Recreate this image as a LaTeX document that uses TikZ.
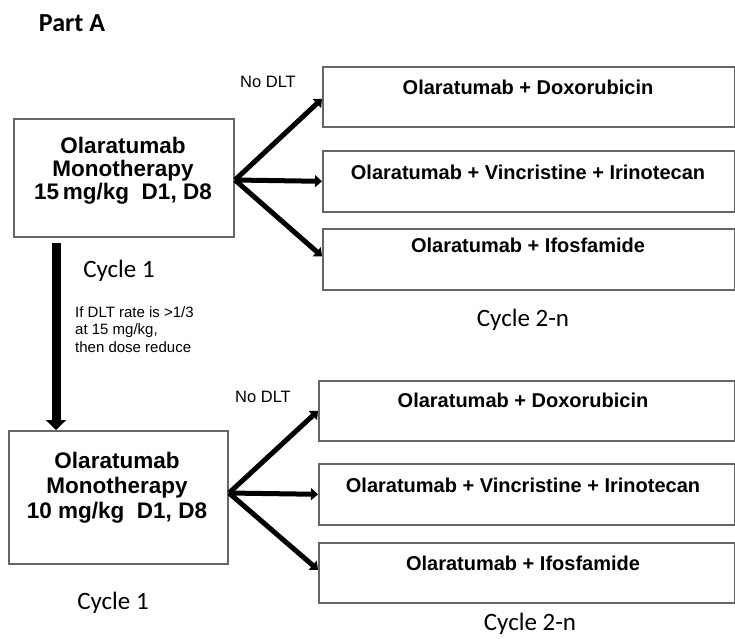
\documentclass[tikz,border=0pt]{standalone}
\usepackage{fontspec}
\setmainfont{Liberation Sans}
\newfontfamily\carlito{Carlito}
\usetikzlibrary{arrows.meta}
\definecolor{boxgray}{HTML}{666666}
\tikzset{
  box/.style={draw=boxgray, line width=1.6pt, inner sep=0pt, anchor=north west, fill=white},
  boxtxt/.style={font=\fontsize{20}{22}\selectfont\bfseries, inner sep=0pt},
  monotxt/.style={font=\fontsize{22.5}{23}\selectfont\bfseries, inner sep=0pt, align=center},
  cyc/.style={font=\fontsize{25}{27}\selectfont\carlito, inner sep=0pt},
  nodlt/.style={font=\fontsize{16.5}{18}\selectfont, inner sep=0pt},
  note/.style={font=\fontsize{15}{17.5}\selectfont, inner sep=0pt, align=left, anchor=north west},
  fan/.style={line width=5pt, -{Triangle[length=7pt,width=12pt]}},
  bigarrow/.style={line width=9pt, -{Triangle[length=10pt,width=20pt]}}
}
\begin{document}
\begin{tikzpicture}[x=1pt,y=-1pt]
\useasboundingbox (0,0) rectangle (735,638);
% title
\node[font=\fontsize{26}{28}\selectfont\carlito\bfseries, inner sep=0pt] (title) at (72,23) {Part A};

% ---------- top part ----------
\node[box, minimum width=220pt, minimum height=118pt] (topL) at (13,118) {};
\node[monotxt] (topLtxt) at (123,171) {Olaratumab\\Monotherapy\\15\,mg/kg\ \ D1, D8};

\node[box, minimum width=412pt, minimum height=60pt] (tR1) at (322,66) {};
\node[box, minimum width=412pt, minimum height=61pt] (tR2) at (322,150) {};
\node[box, minimum width=412pt, minimum height=61pt] (tR3) at (322,228) {};
\node[boxtxt] (tR1txt) at (528,87) {Olaratumab + Doxorubicin};
\node[boxtxt] (tR2txt) at (528,172) {Olaratumab + Vincristine + Irinotecan};
\node[boxtxt] (tR3txt) at (528,245) {Olaratumab + Ifosfamide};

\coordinate (tfan) at (235,180);
\draw[fan] (tfan) -- ([yshift=-2pt]tR1.west);
\draw[fan] (tfan) -- (tR2.west);
\draw[fan] (tfan) -- ([yshift=3pt]tR3.west);

\node[nodlt] (tnodlt) at (268,82) {No DLT};
\node[cyc] (tcyc1) at (119,271) {Cycle 1};
\node[cyc] (tcyc2) at (523,320) {Cycle 2-n};

\node[note] (dltnote) at (75,306) {If DLT rate is \textgreater1/3\\at 15 mg/kg,\\then dose reduce};

% ---------- bottom part ----------
\node[box, minimum width=219pt, minimum height=133pt] (botL) at (8,430) {};
\node[monotxt, font=\fontsize{22.5}{25}\selectfont\bfseries] (botLtxt) at (117,488) {Olaratumab\\Monotherapy\\10 mg/kg\ \ D1, D8};

\node[box, minimum width=416pt, minimum height=60pt] (bR1) at (318,380) {};
\node[box, minimum width=416pt, minimum height=61pt] (bR2) at (318,463) {};
\node[box, minimum width=416pt, minimum height=60pt] (bR3) at (318,542) {};
\node[boxtxt] (bR1txt) at (523,400) {Olaratumab + Doxorubicin};
\node[boxtxt] (bR2txt) at (523,485) {Olaratumab + Vincristine + Irinotecan};
\node[boxtxt] (bR3txt) at (523,563) {Olaratumab + Ifosfamide};

\coordinate (bfan) at (229,493);
\draw[fan] (bfan) -- ([yshift=0pt]bR1.west);
\draw[fan] (bfan) -- (bR2.west);
\draw[fan] (bfan) -- ([yshift=3pt]bR3.west);

\node[nodlt] (bnodlt) at (263,397) {No DLT};
\node[cyc] (bcyc1) at (113,603) {Cycle 1};
\node[cyc] (bcyc2) at (530,624) {Cycle 2-n};

% vertical arrow
\coordinate (vs) at (56,243);
\draw[bigarrow] (vs) -- (vs |- botL.north);
\end{tikzpicture}
\end{document}
